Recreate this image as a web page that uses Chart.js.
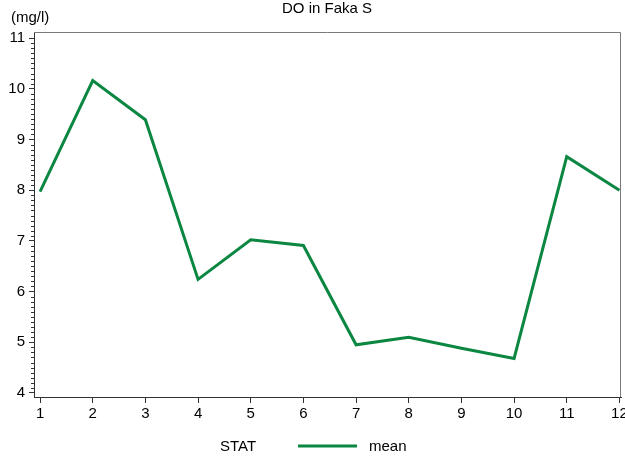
<!DOCTYPE html>
<html>
<head>
<meta charset="utf-8">
<script src="https://cdn.jsdelivr.net/npm/chart.js@4"></script>
<style>
  body { margin: 0; background: #fff; }
  #wrap { width: 625px; height: 458px; position: relative; }
</style>
</head>
<body>
<div id="wrap"><canvas id="chart"></canvas></div>
<script>
"use strict";

// values
const months = [1, 2, 3, 4, 5, 6, 7, 8, 9, 10, 11, 12];
const meanDO = [7.97, 10.16, 9.39, 6.24, 7.02, 6.91, 4.95, 5.10, 4.88, 4.68, 8.66, 8.00];
const yTicks = [4, 5, 6, 7, 8, 9, 10, 11];
const xTicks = months;

const titleText = "DO in Faka S";
const unitText = "(mg/l)";
const legendTitle = "STAT";
const seriesName = "mean";
const lineColor = "#0b8742";
const FONT = "'Liberation Sans', Arial, sans-serif";

const points = months.map((m, i) => ({ x: m, y: meanDO[i] }));

const decorations = {
    id: "decorations",
    afterDraw(chart) {
        const ctx = chart.ctx;
        const area = chart.chartArea;
        const yScale = chart.scales.y;

        ctx.save();
        // frame: top and right in grey
        ctx.strokeStyle = "#7a7a7a";
        ctx.lineWidth = 1;
        ctx.beginPath();
        ctx.moveTo(area.left, area.top + 0.5);
        ctx.lineTo(area.right - 0.5, area.top + 0.5);
        ctx.lineTo(area.right - 0.5, area.bottom);
        ctx.stroke();

        // minor ticks on y
        ctx.strokeStyle = "#333";
        ctx.beginPath();
        for (let k = 40; k <= 110; k++) {
            if (k % 10 === 0) continue;
            const py = Math.round(yScale.getPixelForValue(k / 10)) + 0.5;
            ctx.moveTo(area.left - 3, py);
            ctx.lineTo(area.left, py);
        }
        ctx.stroke();

        // title and unit label
        ctx.fillStyle = "#000";
        ctx.font = "15px " + FONT;
        ctx.textAlign = "center";
        ctx.textBaseline = "middle";
        ctx.fillText(titleText, 327, 9);
        ctx.textAlign = "left";
        ctx.fillText(unitText, 11, 18);

        // legend
        const ly = 447;
        ctx.fillText(legendTitle, 220, ly);
        ctx.strokeStyle = chart.data.datasets[0].borderColor;
        ctx.lineWidth = 3;
        ctx.beginPath();
        ctx.moveTo(298, ly - 1);
        ctx.lineTo(357, ly - 1);
        ctx.stroke();
        ctx.fillText(chart.data.datasets[0].label, 369, ly);
        ctx.restore();
    }
};

new Chart(document.getElementById("chart"), {
    type: "line",
    data: {
        datasets: [{
            label: seriesName,
            data: points,
            borderColor: lineColor,
            borderWidth: 3,
            pointRadius: 0,
            fill: false,
            tension: 0
        }]
    },
    options: {
        responsive: true,
        maintainAspectRatio: false,
        animation: false,
        layout: { padding: { top: 32, right: 4, bottom: 39, left: 0 } },
        plugins: {
            legend: { display: false },
            title: { display: false },
            tooltip: { enabled: false }
        },
        scales: {
            x: {
                type: "linear",
                min: 0.885,
                max: 12.03,
                afterBuildTicks: (scale) => { scale.ticks = xTicks.map(v => ({ value: v })); },
                afterFit: (scale) => {
                    scale.height = 22;
                    scale.paddingLeft = 0;
                    scale.paddingRight = 0;
                },
                grid: { drawOnChartArea: false, tickLength: 6, color: "#333", tickColor: "#333" },
                border: { color: "#333", width: 1 },
                ticks: {
                    color: "#000",
                    font: { family: FONT, size: 15 },
                    padding: 2,
                    maxRotation: 0,
                    autoSkip: false
                }
            },
            y: {
                min: 3.92,
                max: 11.12,
                afterBuildTicks: (scale) => { scale.ticks = yTicks.map(v => ({ value: v })); },
                afterFit: (scale) => {
                    scale.width = 34;
                    scale.paddingTop = 0;
                    scale.paddingBottom = 0;
                },
                grid: { drawOnChartArea: false, tickLength: 5, color: "#333", tickColor: "#333" },
                border: { color: "#333", width: 1 },
                ticks: {
                    color: "#000",
                    font: { family: FONT, size: 15 },
                    padding: 4
                }
            }
        }
    },
    plugins: [decorations]
});
</script>
</body>
</html>
